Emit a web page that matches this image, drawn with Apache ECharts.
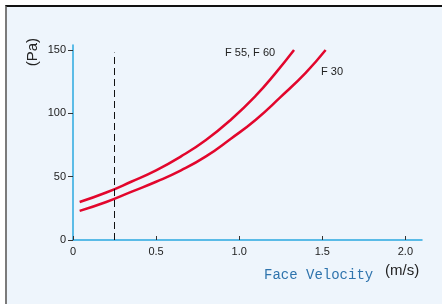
<!DOCTYPE html>
<html lang="en">
<head>
  <meta charset="UTF-8">
  <title>Face Velocity</title>
  <style>
    body {
      margin: 0;
      padding: 0;
      background: #fff;
    }
    .frame {
      position: absolute;
      left: 5px;
      top: 5px;
      width: 437px;
      height: 299px;
      background-color: #eef5fc;
      border-left: 2px solid #7b7b7b;
      border-top: 2px solid #111;
      box-sizing: border-box;
    }
    #main {
      position: absolute;
      left: 0;
      top: 0;
      width: 442px;
      height: 304px;
    }
  </style>
</head>
<body>
  <div class="frame"></div>
  <div id="main"></div>
<script src="https://cdn.jsdelivr.net/npm/echarts@6.0.0/dist/echarts.min.js"></script>
<script>
// curves
var f5560X = [0.04, 0.2, 0.35, 0.5, 0.65, 0.8, 0.95, 1.1, 1.22, 1.33]
var f5560Y = [30, 37.5, 46, 55, 66, 79, 95, 114, 132, 150]
var f30X = [0.04, 0.2, 0.35, 0.5, 0.65, 0.8, 0.95, 1.1, 1.25, 1.4, 1.52]
var f30Y = [23, 30, 38, 46, 55, 66, 80, 95, 113, 132, 150]
var xTicks = [0, 0.5, 1.0, 1.5, 2.0]
var yTicks = [0, 50, 100, 150]
var dashX = 0.25
var dashTop = 148

function pairs(xs, ys) {
  return xs.map(function(x, i) { return [x, ys[i]] })
}

var chart = echarts.init(document.getElementById('main'))
var red = '#e2062c'
var lblFont = 'Liberation Sans, Arial, sans-serif'

chart.setOption({
  animation: false,
  grid: { left: 73, right: 20, top: 45, bottom: 64 },
  xAxis: {
    type: 'value',
    min: 0,
    max: 2.1,
    axisLine: { lineStyle: { color: '#2aa8e0', width: 1.5 } },
    axisTick: { show: true, inside: true, length: 4, customValues: xTicks, lineStyle: { color: '#333' } },
    axisLabel: {
      customValues: xTicks,
      color: '#222',
      fontSize: 11,
      fontFamily: lblFont,
      margin: 6,
      formatter: function(v) { return v === 0 ? '0' : v.toFixed(1) }
    },
    splitLine: { show: false }
  },
  yAxis: {
    type: 'value',
    min: 0,
    max: 154,
    axisLine: { show: true, lineStyle: { color: '#2aa8e0', width: 1.5 } },
    axisTick: { show: true, length: 5, customValues: yTicks, lineStyle: { color: '#333' } },
    axisLabel: { customValues: yTicks, color: '#222', fontSize: 11, fontFamily: lblFont, margin: 7 },
    splitLine: { show: false }
  },
  series: [
    {
      name: 'F 55, F 60',
      type: 'line',
      smooth: true,
      symbol: 'none',
      data: pairs(f5560X, f5560Y),
      lineStyle: { color: red, width: 2.5 },
      markLine: {
        symbol: 'none',
        silent: true,
        label: { show: false },
        lineStyle: { color: '#111', type: [7, 4], width: 1 },
        data: [[{ coord: [dashX, 0] }, { coord: [dashX, dashTop] }]]
      }
    },
    {
      name: 'F 30',
      type: 'line',
      smooth: true,
      symbol: 'none',
      data: pairs(f30X, f30Y),
      lineStyle: { color: red, width: 2.5 }
    }
  ],
  graphic: [
    { type: 'text', left: 225, top: 47, style: { text: 'F 55, F 60', fill: '#222', font: '11px ' + lblFont } },
    { type: 'text', left: 321, top: 66, style: { text: 'F 30', fill: '#222', font: '11px ' + lblFont } },
    { type: 'text', left: 264, top: 268, style: { text: 'Face Velocity', fill: '#2f74ad', font: '14px "Liberation Mono", "DejaVu Sans Mono", monospace' } },
    { type: 'text', left: 385, top: 263, style: { text: '(m/s)', fill: '#222', font: '15px ' + lblFont } },
    { type: 'text', left: 25, top: 38, rotation: Math.PI / 2, style: { text: '(Pa)', fill: '#222', font: '15px ' + lblFont } }
  ]
})
</script>
</body>
</html>
